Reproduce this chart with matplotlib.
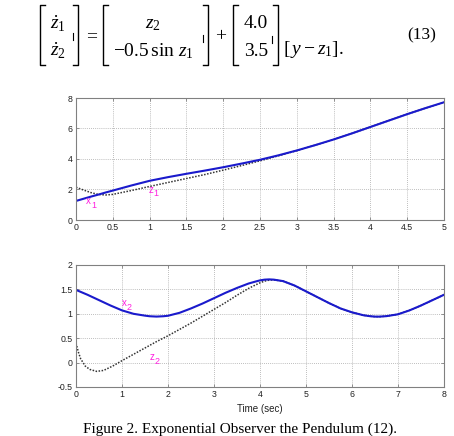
import numpy as np
import matplotlib
matplotlib.use("Agg")
import matplotlib.pyplot as plt
from matplotlib.lines import Line2D

plt.rcParams['mathtext.fontset'] = 'custom'
plt.rcParams['mathtext.rm'] = 'Liberation Serif'
plt.rcParams['mathtext.it'] = 'Liberation Serif:italic'
plt.rcParams['mathtext.bf'] = 'Liberation Serif:bold'

# ---------------- data ----------------
t_top = [0, 0.1, 0.2, 0.3, 0.4, 0.5, 0.75, 1, 1.25, 1.5, 1.75, 2, 2.25, 2.5,
         2.75, 3, 3.25, 3.5, 3.75, 4, 4.25, 4.5, 4.75, 5]
x1 = [1.25, 1.39, 1.53, 1.66, 1.80, 1.93, 2.26, 2.57, 2.81, 3.03, 3.24, 3.46,
      3.70, 3.95, 4.24, 4.56, 4.91, 5.28, 5.68, 6.10, 6.52, 6.94, 7.34, 7.72]
z1 = [2.15, 1.97, 1.80, 1.68, 1.64, 1.68, 1.93, 2.20, 2.46, 2.72, 2.98, 3.27,
      3.57, 3.88, 4.21, 4.55, 4.91, 5.28, 5.68, 6.10, 6.52, 6.94, 7.34, 7.72]

t_x2 = [0, 0.25, 0.5, 0.75, 1, 1.25, 1.5, 1.6, 1.75, 1.9, 2, 2.25, 2.5, 2.75,
        3, 3.25, 3.5, 3.75, 3.9, 4, 4.1, 4.2, 4.3, 4.5, 4.75, 5, 5.25, 5.5,
        5.75, 6, 6.25, 6.4, 6.5, 6.6, 6.75, 7, 7.25, 7.5, 7.75, 8]
x2 = [1.49, 1.39, 1.28, 1.17, 1.07, 1.00, 0.962, 0.950, 0.943, 0.950, 0.96,
      1.02, 1.11, 1.21, 1.32, 1.43, 1.53, 1.62, 1.66, 1.685, 1.70, 1.705,
      1.70, 1.67, 1.58, 1.46, 1.34, 1.22, 1.11, 1.03, 0.97, 0.950, 0.942,
      0.942, 0.952, 0.99, 1.07, 1.17, 1.28, 1.39]
t_z2 = [0, 0.05, 0.1, 0.2, 0.3, 0.45, 0.6, 0.8, 1, 1.25, 1.5, 1.75, 2, 2.25,
        2.5, 2.75, 3, 3.25, 3.5, 3.75, 3.9, 4, 4.1, 4.2, 4.3, 4.5, 4.75, 5,
        5.25, 5.5, 5.75, 6, 6.25, 6.4, 6.5, 6.6, 6.75, 7, 7.25, 7.5, 7.75, 8]
z2 = [0.40, 0.22, 0.08, -0.07, -0.14, -0.18, -0.16, -0.07, 0.04, 0.17, 0.30,
      0.43, 0.55, 0.68, 0.81, 0.95, 1.09, 1.23, 1.38, 1.52, 1.59, 1.635, 1.67,
      1.69, 1.695, 1.67, 1.58, 1.46, 1.34, 1.22, 1.11, 1.03, 0.97, 0.950,
      0.942, 0.942, 0.952, 0.99, 1.07, 1.17, 1.28, 1.39]

top_xticks = [0, 0.5, 1, 1.5, 2, 2.5, 3, 3.5, 4, 4.5, 5]
top_xlabels = ['0', '0.5', '1', '1.5', '2', '2.5', '3', '3.5', '4', '4.5', '5']
top_yticks = [0, 2, 4, 6, 8]
bot_xticks = [0, 1, 2, 3, 4, 5, 6, 7, 8]
bot_yticks = [-0.5, 0, 0.5, 1, 1.5, 2]
bot_ylabels = ['-0.5', '0', '0.5', '1', '1.5', '2']

W, H = 454, 436
fig = plt.figure(figsize=(W / 100, H / 100), dpi=100)
fig.patch.set_facecolor('white')

def fx(px):
    return px / W

def fy(py):
    return 1 - py / H

def style_axes(ax):
    for s in ax.spines.values():
        s.set_color('#808080')
        s.set_linewidth(0.8)
    ax.tick_params(direction='in', length=2.5, width=0.6, color='#808080',
                   labelsize=6.3, pad=2.5, top=True, right=True, labelcolor='#222222')
    ax.grid(True, linestyle=(0, (1, 1.5)), color='#a8a8a8', linewidth=0.6)
    for lab in ax.get_xticklabels() + ax.get_yticklabels():
        lab.set_fontfamily('Liberation Sans')

MAG = '#ff20e0'
BLUE = '#1a1acc'

def sublabel(ax, x, y, base, sub):
    ax.annotate(base, (x, y), xytext=(0, 0), textcoords='offset points',
                color=MAG, fontsize=7, family='Liberation Sans',
                ha='left', va='baseline')
    ax.annotate(sub, (x, y), xytext=(3.6, -2.6), textcoords='offset points',
                color=MAG, fontsize=6.5, family='Liberation Sans',
                ha='left', va='baseline')

# top axes
ax1 = fig.add_axes([fx(76), fy(220), fx(444) - fx(76), fy(98) - fy(220)])
ax1.plot(t_top, z1, linestyle=(0, (1, 1)), color='#333333', linewidth=1.1)
ax1.plot(t_top, x1, color=BLUE, linewidth=1.5)
ax1.set_xlim(0, 5)
ax1.set_ylim(0, 8)
ax1.set_xticks(top_xticks)
ax1.set_xticklabels(top_xlabels)
ax1.set_yticks(top_yticks)
style_axes(ax1)
sublabel(ax1, 0.14, 1.05, 'x', '1')
sublabel(ax1, 0.98, 1.8, 'z', '1')

# bottom axes
ax2 = fig.add_axes([fx(76), fy(387), fx(444) - fx(76), fy(265) - fy(387)])
ax2.plot(t_z2, z2, linestyle=(0, (1, 1)), color='#333333', linewidth=1.1)
ax2.plot(t_x2, x2, color=BLUE, linewidth=1.5)
ax2.set_xlim(0, 8)
ax2.set_ylim(-0.5, 2)
ax2.set_xticks(bot_xticks)
ax2.set_yticks(bot_yticks)
ax2.set_yticklabels(bot_ylabels)
style_axes(ax2)
sublabel(ax2, 1.0, 1.15, 'x', '2')
sublabel(ax2, 1.6, 0.05, 'z', '2')
ax2.set_xlabel('Time (sec)', fontsize=7, family='Liberation Sans', labelpad=3,
               color='#222222')

# ---------------- equation ----------------
def ln(xs, ys, lw=1.0):
    fig.add_artist(Line2D([fx(v) for v in xs], [fy(v) for v in ys],
                          color='black', linewidth=lw,
                          transform=fig.transFigure))

def lbr(x, y0, y1, s=5):
    ln([x + s, x, x, x + s], [y0, y0, y1, y1])

def rbr(x, y0, y1, s=5):
    ln([x - s, x, x, x - s], [y0, y0, y1, y1])

EQ = 14
def tx(x, y, s, size=EQ, ha='center'):
    fig.text(fx(x), fy(y), s, fontsize=size, ha=ha, va='center',
             family='Liberation Serif')

lbr(40, 5, 65); rbr(78, 5, 65)
tx(58, 24, r'$\dot{z}_1$')
tx(58, 51, r'$\dot{z}_2$')
ln([73, 73], [33, 40], lw=0.8)
tx(92, 37, '=')
lbr(103, 5, 65); rbr(208, 5, 65)
tx(153, 24, r'$z_2$')
tx(153, 51, r'$-0.5\,\sin\,z_1$')
ln([203, 203], [35, 42], lw=0.8)
tx(221, 37, '+')
lbr(233, 5, 65); rbr(278, 5, 65)
tx(256, 24, '4.0')
tx(256, 51, '3.5')
ln([272, 272], [36, 43], lw=0.8)
tx(283, 50, r'$[\,y-z_1].$', ha='left')
tx(422, 35, '(13)', size=12.5)

# caption
fig.text(fx(240), fy(429), 'Figure 2. Exponential Observer the Pendulum (12).',
         fontsize=11, ha='center', va='center', family='Liberation Serif')

fig.savefig('out.png', dpi=100)
